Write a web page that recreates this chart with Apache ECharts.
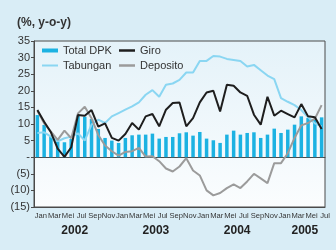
<!DOCTYPE html>
<html>
<head>
<meta charset="utf-8">
<script src="https://cdn.jsdelivr.net/npm/echarts@6/dist/echarts.min.js"></script>
<style>
  html, body { margin: 0; padding: 0; background: #d9edf6; }
  #chart { width: 336px; height: 250px; }
</style>
</head>
<body>
<div id="chart"></div>
<script>
// month names as printed on the axis (Indonesian)
const monthNames = ['Jan', 'Feb', 'Mar', 'Apr', 'Mei', 'Jun', 'Jul', 'Agu', 'Sep', 'Okt', 'Nov', 'Des']
const years = ['2002', '2003', '2004', '2005']
const monthsIn2005 = 7

// y-o-y growth, Jan 2002 .. Jul 2005 (%)
const totalDpk = [12.7, 9.7, 6.5, 4.7, 4.5, 5.5, 12.5, 12.2, 11.5, 8.5, 5.8, 5.0,
  4.3, 5.8, 6.6, 6.8, 6.8, 7.1, 5.6, 6.1, 6.1, 7.2, 7.5, 6.5,
  7.6, 5.6, 5.1, 4.3, 6.8, 8.0, 6.8, 7.3, 7.5, 5.8, 6.8, 8.6,
  7.3, 8.3, 9.8, 12.3, 11.8, 11.3, 12.0]
const giro = [14.2, 10.7, 7.5, 2.6, 0.1, 3.0, 12.7, 12.5, 14.2, 9.2, 10.2, 5.8,
  5.0, 7.0, 10.3, 8.3, 12.3, 13.0, 9.3, 14.3, 16.3, 16.5, 9.3, 11.8,
  16.5, 19.5, 20.0, 13.8, 21.8, 21.5, 19.5, 18.5, 12.8, 9.8, 18.2, 12.5,
  14.0, 13.0, 12.0, 16.0, 12.3, 12.0, 8.5]
const tabungan = [7.3, 7.5, 6.2, 4.8, 5.7, 6.2, 7.2, 5.0, 9.8, 11.3, 10.3, 12.3,
  13.3, 14.3, 15.3, 16.5, 18.8, 20.2, 18.2, 21.8, 22.2, 23.3, 25.5, 25.5,
  29.0, 29.0, 30.5, 30.3, 29.6, 29.3, 29.0, 27.3, 27.8, 26.2, 24.6, 23.5,
  17.8, 16.7, 15.7, 14.2, 12.0, 10.2, 9.3]
const deposito = [14.0, 10.2, 7.7, 5.2, 8.0, 5.7, 13.2, 15.2, 11.7, 6.7, 3.5, 1.8,
  0.5, 1.6, 1.8, 2.8, 0.2, 0.3, -1.2, -3.4, -4.3, -2.8, -0.3, -4.0,
  -5.5, -10.0, -11.5, -10.8, -9.3, -8.2, -9.3, -7.3, -5.0, -6.4, -7.8, -1.8,
  -1.8, 1.2, 5.8, 9.6, 10.3, 11.6, 15.7]

const yMin = -15
const yMax = 35
const yStep = 5

const categories = []
years.forEach((y, yi) => {
  const n = yi === years.length - 1 ? monthsIn2005 : 12
  for (let m = 0; m < n; m++) categories.push(monthNames[m] + ' ' + y)
})
// year caption sits under the middle of each year's months
const yearLabelIdx = years.map((y, yi) => {
  const n = yi === years.length - 1 ? monthsIn2005 : 12
  return yi * 12 + Math.floor((n - 1) / 2)
})

const font = '"Liberation Sans", Arial, sans-serif'
const axisColor = '#4a4a4a'
const colors = { dpk: '#1cb2e2', tab: '#8ad6f2', dep: '#9b9b9b', giro: '#1e1e1e' }

function legendItem(name, left, top, thick) {
  return {
    left, top, padding: 0, itemWidth: 16, itemHeight: thick, icon: 'rect',
    textStyle: { fontSize: 11, color: '#333', fontFamily: font },
    data: [name]
  }
}

const chart = echarts.init(document.getElementById('chart'), null, { renderer: 'canvas' })

chart.setOption({
  backgroundColor: '#d9edf6',
  animation: false,
  textStyle: { fontFamily: font },
  title: [
    { text: '(%, y-o-y)', left: 12, top: 12, textStyle: { fontSize: 12, fontWeight: 'bold', color: '#333' } },
    { text: 'Sumber: DPNP', left: 7, top: 245, textStyle: { fontSize: 10, fontWeight: 'normal', color: '#444' } }
  ],
  grid: {
    left: 34, right: 11, top: 41, bottom: 43,
    show: true,
    borderColor: axisColor,
    borderWidth: 1,
    backgroundColor: new echarts.graphic.LinearGradient(0, 0, 0, 1, [
      { offset: 0, color: '#e4f2f9' },
      { offset: 1, color: '#fbfdfe' }
    ])
  },
  legend: [
    legendItem('Total DPK', 42, 45, 4),
    legendItem('Tabungan', 42, 60, 2),
    legendItem('Giro', 119, 45, 2.5),
    legendItem('Deposito', 119, 60, 2.5)
  ],
  xAxis: [
    {
      type: 'category', data: categories, position: 'bottom',
      axisLine: { onZero: false, lineStyle: { color: axisColor } },
      axisTick: { interval: 1, length: 3, lineStyle: { color: axisColor } },
      axisLabel: {
        interval: 1, margin: 5, padding: [0, 0, 0, 7],
        showMinLabel: true, showMaxLabel: true, hideOverlap: false,
        fontSize: 7.6, color: '#333',
        formatter: v => v.split(' ')[0]
      }
    },
    {
      // the zero line with its own ticks
      type: 'category', data: categories, position: 'top',
      axisLine: { onZero: true, lineStyle: { color: axisColor } },
      axisTick: { interval: 1, length: 3, inside: true, lineStyle: { color: axisColor } },
      axisLabel: { show: false }
    },
    {
      type: 'category', data: categories, position: 'bottom', offset: 13,
      axisLine: { show: false }, axisTick: { show: false },
      axisLabel: {
        interval: (idx) => yearLabelIdx.includes(idx),
        margin: 5, padding: [0, 0, 0, 7],
        fontSize: 12, fontWeight: 'bold', color: '#222',
        formatter: v => v.split(' ')[1]
      }
    }
  ],
  yAxis: {
    type: 'value', min: yMin, max: yMax, interval: yStep,
    axisLine: { show: true, lineStyle: { color: axisColor } },
    axisTick: { show: true, length: 3, lineStyle: { color: axisColor } },
    splitLine: { show: false },
    axisLabel: {
      margin: 4, fontSize: 11, color: '#333',
      formatter: v => v > 0 ? String(v) : v === 0 ? '-' : '(' + (-v) + ')'
    }
  },
  series: [
    {
      name: 'Total DPK', type: 'bar', data: totalDpk, barWidth: 3.5,
      itemStyle: { color: colors.dpk }
    },
    {
      name: 'Tabungan', type: 'line', data: tabungan, symbol: 'none',
      lineStyle: { color: colors.tab, width: 2 }, itemStyle: { color: colors.tab }
    },
    {
      name: 'Deposito', type: 'line', data: deposito, symbol: 'none',
      lineStyle: { color: colors.dep, width: 2 }, itemStyle: { color: colors.dep }
    },
    {
      name: 'Giro', type: 'line', data: giro, symbol: 'none',
      lineStyle: { color: colors.giro, width: 2 }, itemStyle: { color: colors.giro }
    }
  ]
})
</script>
</body>
</html>
